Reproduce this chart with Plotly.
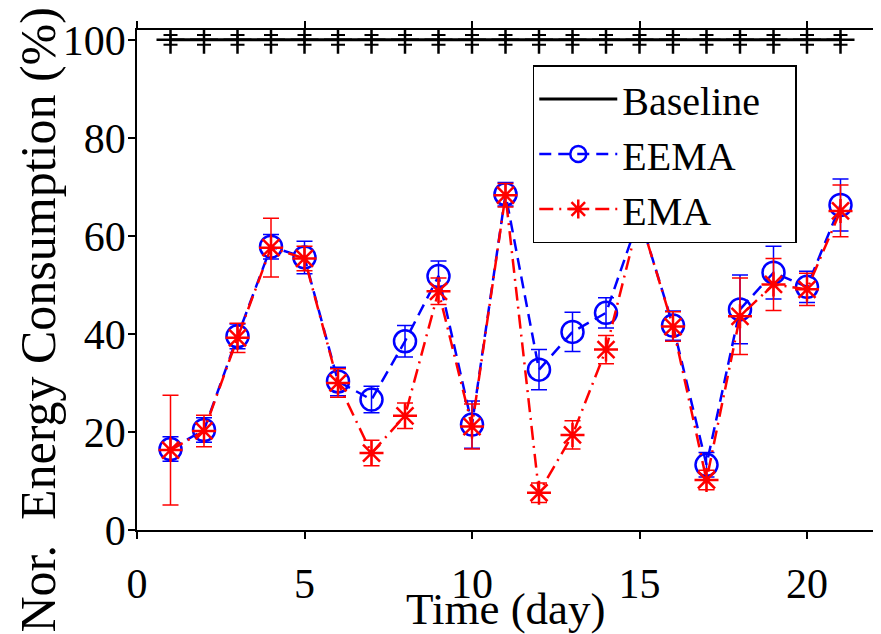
import plotly.graph_objects as go

# ---- data ----
days = [1, 2, 3, 4, 5, 6, 7, 8, 9, 10, 11, 12, 13, 14, 15, 16, 17, 18, 19, 20, 21]
baseline = [100, 100, 100, 100, 100, 100, 100, 100, 100, 100, 100,
            100, 100, 100, 100, 100, 100, 100, 100, 100, 100]
baseline_err = [1, 1, 1, 1, 1, 1, 1, 1, 1, 1, 1,
                1, 1, 1, 1, 1, 1, 1, 1, 1, 1]
eema = [16.5, 20.4, 39.5, 57.8, 55.6, 30.3, 26.6, 38.5, 51.8, 21.5, 68.5,
        32.7, 40.4, 44.3, 64.0, 41.7, 13.3, 45.0, 52.5, 49.6, 66.3]
eema_err = [2.5, 2.5, 2.5, 2.5, 3.3, 2.9, 2.7, 3.2, 3.1, 4.8, 2.4,
            4.1, 4.0, 3.1, 3.0, 3.0, 2.5, 7.0, 5.4, 3.2, 5.3]
ema = [16.3, 20.2, 39.2, 57.6, 55.4, 30.0, 15.7, 23.3, 48.7, 21.1, 68.3,
       7.6, 19.4, 36.8, 64.0, 41.5, 10.2, 43.6, 50.1, 49.1, 65.1]
ema_err = [11.2, 3.2, 3.0, 6.0, 2.5, 2.9, 2.6, 2.6, 2.7, 4.6, 2.4,
           2.0, 2.9, 2.9, 3.0, 3.0, 2.0, 7.8, 5.3, 3.3, 5.3]

x_ticks = [0, 5, 10, 15, 20]
y_ticks = [0, 20, 40, 60, 80, 100]

FONT = "Liberation Serif"
BLUE = "#0000FF"
RED = "#FF0000"
PAD = "\u00a0\u00a0\u00a0"  # right padding inside the legend box

fig = go.Figure()

# Baseline line (legend entry)
fig.add_trace(go.Scatter(
    x=days, y=baseline, mode="lines", name="Baseline" + PAD,
    line=dict(color="black", width=3),
))
# Baseline markers with error bars
fig.add_trace(go.Scatter(
    x=days, y=baseline, mode="markers", name="Baseline", showlegend=False,
    marker=dict(symbol="cross-thin-open", size=20, color="black",
                line=dict(color="black", width=2.5)),
    error_y=dict(type="data", array=baseline_err, color="black",
                 thickness=2, width=7),
))
# EEMA
fig.add_trace(go.Scatter(
    x=days, y=eema, mode="lines+markers", name="EEMA",
    line=dict(color=BLUE, width=2.5, dash="12px,7px"),
    marker=dict(symbol="circle-open", size=22, color=BLUE,
                line=dict(color=BLUE, width=2.5)),
    error_y=dict(type="data", array=eema_err, color=BLUE,
                 thickness=1.5, width=8),
))
# EMA
fig.add_trace(go.Scatter(
    x=days, y=ema, mode="lines+markers", name="EMA",
    line=dict(color=RED, width=2.5, dash="14px,6px,2px,6px"),
    marker=dict(symbol="asterisk-open", size=20, color=RED,
                line=dict(color=RED, width=2.5)),
    error_y=dict(type="data", array=ema_err, color=RED,
                 thickness=1.5, width=8),
))

axis_common = dict(
    showline=True, linecolor="black", linewidth=1.5, mirror="allticks",
    ticks="outside", ticklen=7, tickwidth=1.5, tickcolor="black",
    showgrid=False, zeroline=False, automargin=False,
    tickfont=dict(family=FONT, size=42, color="black"),
)

# page body has an 8px margin: size the figure so it fits the 881x634 window
fig.update_layout(
    width=873, height=626,
    margin=dict(l=129, r=7, t=22, b=104, autoexpand=False),
    paper_bgcolor="white", plot_bgcolor="white",
    font=dict(family=FONT, color="black"),
    xaxis=dict(range=[0, 22], tickvals=x_ticks, ticklabelstandoff=9, **axis_common),
    yaxis=dict(range=[0, 102], tickvals=y_ticks, ticklabelstandoff=-6, **axis_common),
    legend=dict(
        x=0.537, y=0.93, xanchor="left", yanchor="top",
        bgcolor="white", bordercolor="black", borderwidth=1.5,
        font=dict(family=FONT, size=40, color="black"),
        itemwidth=78, tracegroupgap=0,
    ),
    showlegend=True,
    annotations=[
        dict(
            text="Nor.  Energy Consumption (%)", textangle=-90,
            xref="paper", yref="paper", x=-0.135, y=0.42,
            xanchor="center", yanchor="middle", showarrow=False,
            font=dict(family=FONT, size=50, color="black"),
        ),
        dict(
            text="Time (day)",
            xref="paper", yref="paper", x=0.5, y=-0.158,
            xanchor="center", yanchor="middle", showarrow=False,
            font=dict(family=FONT, size=45, color="black"),
        ),
    ],
)

fig.write_html("out.html")
